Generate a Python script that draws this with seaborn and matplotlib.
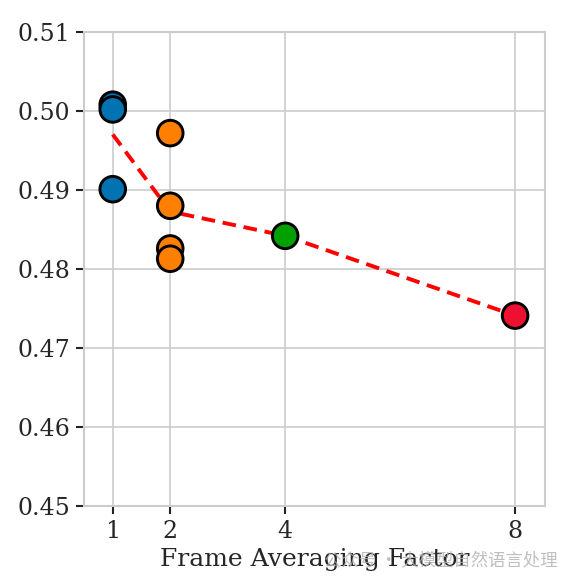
import matplotlib
matplotlib.use("Agg")
import matplotlib.pyplot as plt
import seaborn as sns
import pandas as pd

# Data
frames = [1, 1, 1, 2, 2, 2, 2, 4, 8]
scores = [0.5008, 0.5002, 0.4901, 0.4972, 0.4880, 0.4826, 0.4813, 0.4842, 0.4741]
palette = {1: "#0173B2", 2: "#FF7F00", 4: "#00A000", 8: "#EE1030"}
x_ticks = [1, 2, 4, 8]
y_ticks = [0.45, 0.46, 0.47, 0.48, 0.49, 0.50, 0.51]

df = pd.DataFrame({"frame": frames, "score": scores})

sns.set_theme(style="whitegrid")
plt.rcParams["font.family"] = ["DejaVu Serif"]

fig = plt.figure(figsize=(5.68, 5.84), dpi=100)
ax = fig.add_axes([84 / 568, 1 - 506 / 584, 461 / 568, 474 / 584])

# mean line
sns.lineplot(data=df, x="frame", y="score", estimator="mean", errorbar=None,
             color="red", linestyle=(0, (3.5, 2)), linewidth=2.8, ax=ax, zorder=2)
sns.scatterplot(data=df, x="frame", y="score", hue="frame", palette=palette,
                s=340, edgecolor="black", linewidth=2.1, legend=False, ax=ax, zorder=3)

ax.set_xlim(0.5, 8.52)
ax.set_ylim(0.45, 0.51)
ax.set_xticks(x_ticks)
ax.set_xticklabels([str(t) for t in x_ticks])
ax.set_yticks(y_ticks)
ax.set_yticklabels([f"{t:.2f}" for t in y_ticks])
ax.tick_params(axis="both", which="major", labelsize=17, length=6, width=1.5,
               color="#222222", bottom=True, left=True, pad=4)
ax.set_xlabel("Frame Averaging Factor", fontsize=18, labelpad=4)
ax.set_ylabel("")
for sp in ax.spines.values():
    sp.set_edgecolor("#cccccc")
    sp.set_linewidth(1.5)
ax.grid(True, color="#cccccc", linewidth=1.2)

# watermark
fig.text(0.57, 0.04, "公众号 · 大模型自然语言处理", fontsize=12.5, color="#b0b0b0",
         alpha=0.8, family=["Noto Sans CJK SC", "DejaVu Sans"], ha="left", va="center")

fig.savefig("out.png", dpi=100)
